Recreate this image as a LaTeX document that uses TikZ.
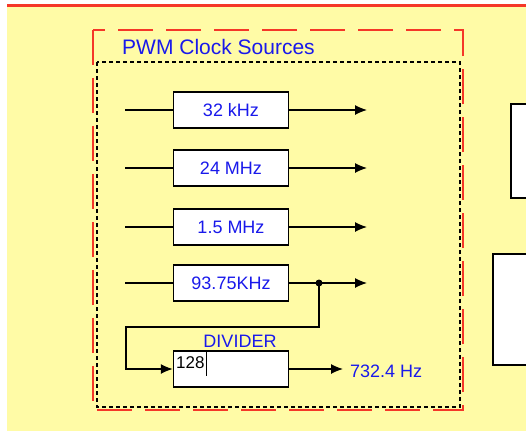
\documentclass[tikz,border=0pt]{standalone}
\usepackage{fontspec}
\setmainfont{Liberation Sans}
\usetikzlibrary{arrows.meta,positioning}
\definecolor{bgyellow}{RGB}{255,251,166}
\definecolor{srcblue}{RGB}{25,25,235}
\definecolor{framered}{RGB}{245,55,40}
\tikzset{
  lbl/.style={font=\fontsize{18}{20}\selectfont},
  clkbox/.style={draw,fill=white,line width=1.5pt,minimum width=115pt,minimum height=36pt,inner sep=0pt,text=srcblue,lbl},
  sig/.style={line width=1.2pt,-{Latex[length=12pt,width=10pt]}}
}
\begin{document}
\begin{tikzpicture}[x=1pt,y=-1pt]
        \useasboundingbox (0,0) rectangle (526,431);
        \fill[bgyellow] (7,6) rectangle (526,431);
        \draw[framered,line width=2.5pt] (7,5.3)--(526,5.3);
        \draw[framered,line width=2pt,dash pattern=on 35pt off 13pt] (93,30) rectangle (463,410);
        \draw[line width=1.5pt,dash pattern=on 4pt off 3pt] (97,62) rectangle (460,407);
        \node[srcblue,font=\fontsize{21}{24}\selectfont,anchor=west,inner sep=0pt] (title) at (122,47) {PWM Clock Sources};
        % clock rows
        \foreach \y/\f [count=\i] in {110/32 kHz,168/24 MHz,227/1.5 MHz,283/93.75KHz} {
            \coordinate (in\i) at (125,\y);
            \node[clkbox] (src\i) at (231,\y) {\f};
            \coordinate (out\i) at (367,\y);
            \draw[line width=1.2pt] (in\i) -- (src\i);
            \draw[sig] (src\i) -- (out\i);
        }
        \coordinate (tap) at (319,283); \fill (tap) circle (3.5pt);
        \coordinate (fbL) at (126,327);
        % divider
        \node[clkbox] (div) at (231,369) {};
        \node[srcblue,lbl,above=3pt of div.north,xshift=9pt,inner sep=0pt] (divlbl) {DIVIDER};
        \node[anchor=west,inner sep=0pt,font=\fontsize{17}{17}\selectfont] (divval) at (176,363) {128};
        \draw[line width=0.8pt] (206,352) -- (206,376);
        \draw[sig] (tap) |- (fbL) |- (div);
        \coordinate (divout) at (343,369);
        \draw[sig] (div) -- (divout);
        \node[srcblue,lbl,anchor=west,inner sep=0pt] (rate) at (350,371) {732.4 Hz};
        % blocks at right edge
        \draw[fill=white,line width=1.5pt] (511,104) rectangle (532,198);
        \draw[fill=white,line width=1.5pt] (493,254) rectangle (532,365);
    \end{tikzpicture}
\end{document}
